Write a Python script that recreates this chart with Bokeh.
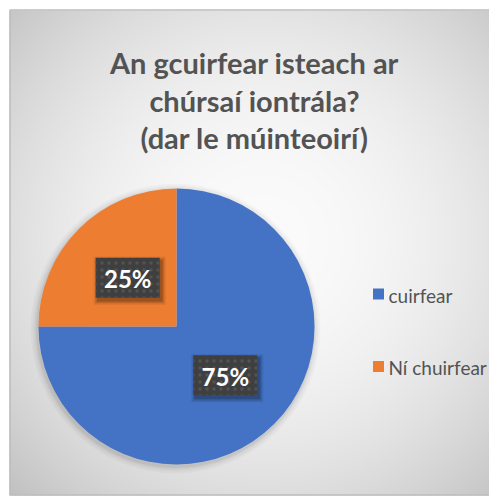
import numpy as np
from bokeh.plotting import figure
from bokeh.models import Range1d
from bokeh.core.properties import value
from bokeh.embed import file_html
from bokeh.resources import INLINE

# ---- data ----
title_lines = ["An gcuirfear isteach ar", "chúrsaí iontrála?", "(dar le múinteoirí)"]
categories = ["cuirfear", "Ní chuirfear"]
shares = [75, 25]
pct_labels = ["75%", "25%"]
colors = ["#4472C4", "#ED7D31"]

# ---- layout (pixels) ----
W, H = 489, 496
cx, cy, R = 176, 170, 138          # pie centre / radius
title_x, title_y0, title_dy = 254, 434, 37.5
leg_x, leg_y0, leg_dy = 378, 202.5, 72.5
FONT = "Lato"
TXT = "#535353"

p = figure(width=W, height=H, x_range=Range1d(0, W), y_range=Range1d(0, H),
           output_backend="svg", toolbar_location=None, min_border=0,
           x_axis_location=None, y_axis_location=None)
p.grid.visible = False
p.outline_line_color = None
p.background_fill_color = "white"
p.border_fill_color = "white"

# background radial gradient of the chart area
x0, y0, y1 = 9, 1, 486
nx, ny = 240, 243
xs = np.linspace(x0, W, nx)
ys = np.linspace(y0, y1, ny)
X, Y = np.meshgrid(xs, ys)
PX, PY = X, 496 - Y
d = np.hypot(PX - 262, PY - 240)
g = 251 - 55 * np.clip(d / 350, 0, 1.2) ** 2
img = np.empty((ny, nx), dtype=np.uint32)
view = img.view(dtype=np.uint8).reshape((ny, nx, 4))
gg = np.clip(g, 0, 255).astype(np.uint8)
view[..., 0] = gg
view[..., 1] = gg
view[..., 2] = gg
view[..., 3] = 255
p.image_rgba(image=[img], x=x0, y=y0, dw=W - x0, dh=y1 - y0)
p.quad(left=x0 + 0.5, right=W + 5, bottom=y0 + 0.5, top=y1 + 0.5, fill_color=None,
       line_color="#bdbdbd", line_width=1.5)

# title
p.text(x=[title_x] * len(title_lines),
       y=[title_y0 - i * title_dy for i in range(len(title_lines))],
       text=title_lines, text_align="center", text_baseline="alphabetic",
       text_font=value(FONT), text_font_style="bold", text_font_size="29px",
       text_color=TXT)

# pie shadow
for k, a in [(7, 0.025), (5, 0.03), (3, 0.04), (1.5, 0.05)]:
    p.circle(x=cx - 1, y=cy - 2, radius=R + k, fill_color="black",
             fill_alpha=a, line_color=None)

# pie
frac = np.array(shares, dtype=float) / sum(shares)
cum = np.concatenate([[0.0], np.cumsum(frac)])
start = np.pi / 2 - 2 * np.pi * cum[:-1]
end = np.pi / 2 - 2 * np.pi * cum[1:]
p.wedge(x=cx, y=cy, radius=R, start_angle=list(start), end_angle=list(end),
        direction="clock", fill_color=colors, line_color=None)

# data labels
mid = (start + end) / 2
lx = cx + 0.5 * R * np.cos(mid)
ly = cy + 0.5 * R * np.sin(mid)
for k, a in [(8, 0.08), (5, 0.12), (2, 0.18)]:
    p.rect(x=list(lx + 2), y=list(ly - 3), width=64 + k, height=40 + k,
           width_units="screen", height_units="screen",
           fill_color="black", fill_alpha=a, line_color=None)
p.rect(x=list(lx), y=list(ly), width=64, height=40, width_units="screen",
       height_units="screen", fill_color="#3f3f3f", line_color=None,
       hatch_pattern="dot", hatch_color="#535353", hatch_scale=7, hatch_weight=1.5)
p.text(x=list(lx), y=list(ly - 1), text=pct_labels, text_align="center",
       text_baseline="middle", text_font=value(FONT), text_font_style="bold",
       text_font_size="24px", text_color="white")

# legend
leg_y = [leg_y0 - i * leg_dy for i in range(len(categories))]
p.scatter(x=[leg_x] * len(categories), y=leg_y, marker="square", size=11,
          fill_color=colors, line_color=None)
p.text(x=[leg_x + 10] * len(categories), y=[v - 1 for v in leg_y], text=categories,
       text_align="left", text_baseline="middle", text_font=value(FONT),
       text_font_size="19px", text_color=TXT)

open("out.html", "w").write(file_html(p, INLINE))
